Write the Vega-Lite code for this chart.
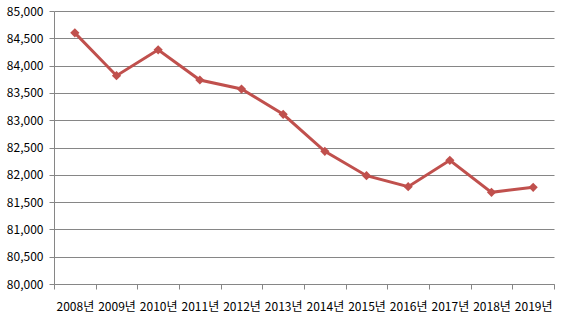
{
  "$schema": "https://vega.github.io/schema/vega-lite/v6.json",
  "width": 500,
  "height": 273,
  "autosize": {"type": "none"},
  "padding": {"left": 54, "top": 11, "right": 11, "bottom": 37},
  "background": "white",
  "config": {"view": {"stroke": null}, "font": "Noto Sans CJK KR"},
  "data": {"values": [
    {"year": "2008년", "value": 84600},
    {"year": "2009년", "value": 83815},
    {"year": "2010년", "value": 84290},
    {"year": "2011년", "value": 83736},
    {"year": "2012년", "value": 83571},
    {"year": "2013년", "value": 83108},
    {"year": "2014년", "value": 82430},
    {"year": "2015년", "value": 81984},
    {"year": "2016년", "value": 81782},
    {"year": "2017년", "value": 82265},
    {"year": "2018년", "value": 81679},
    {"year": "2019년", "value": 81771}
  ]},
  "encoding": {
    "x": {
      "field": "year", "type": "ordinal", "title": null,
      "scale": {"paddingInner": 0, "paddingOuter": 0},
      "axis": {
        "labelAngle": 0, "labelFontSize": 12, "labelColor": "#000000",
        "labelFont": "Noto Sans CJK KR", "labelOverlap": false, "labelLimit": 0,
        "labelPadding": 12, "tickBand": "extent", "tickSize": 5,
        "tickColor": "#868686", "domainColor": "#868686", "grid": false
      }
    },
    "y": {
      "field": "value", "type": "quantitative", "title": null,
      "scale": {"domain": [80000, 85000], "nice": false, "zero": false},
      "axis": {
        "values": [80000, 80500, 81000, 81500, 82000, 82500, 83000, 83500, 84000, 84500, 85000],
        "format": ",d", "labelFontSize": 12, "labelColor": "#000000",
        "labelFont": "Noto Sans CJK KR", "labelPadding": 6, "tickSize": 5,
        "tickColor": "#868686", "domainColor": "#868686",
        "grid": true, "gridColor": "#868686", "gridOpacity": 1
      }
    }
  },
  "layer": [
    {"mark": {"type": "line", "color": "#C0504D", "strokeWidth": 3}},
    {"mark": {"type": "point", "shape": "diamond", "filled": true, "color": "#C0504D", "size": 85, "opacity": 1}}
  ]
}
